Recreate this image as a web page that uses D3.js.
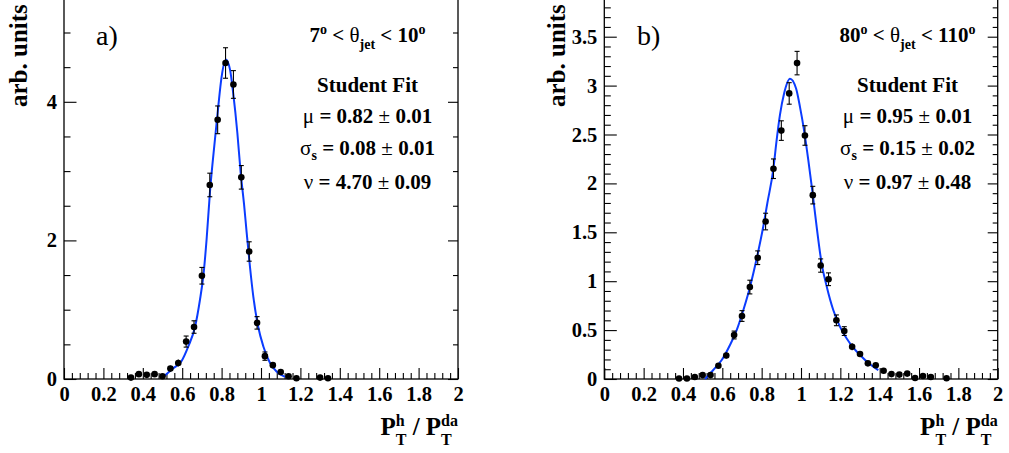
<!DOCTYPE html>
<html><head><meta charset="utf-8">
<script src="https://cdn.jsdelivr.net/npm/d3@7"></script>
<style>
html,body{margin:0;padding:0;background:#fff;}
svg{display:block;font-family:"Liberation Serif","Times New Roman",serif;}
text{white-space:pre;}
</style></head>
<body>
<svg id="c" width="1009" height="453"></svg>
<script>
// ---------- data ----------
const xTickValues = [0,0.2,0.4,0.6,0.8,1,1.2,1.4,1.6,1.8,2];
const xTickLabels = ["0","0.2","0.4","0.6","0.8","1","1.2","1.4","1.6","1.8","2"];

// panel a)
const aX   = [0.34,0.38,0.42,0.46,0.50,0.54,0.58,0.62,0.66,0.70,0.74,0.78,0.82,0.86,0.90,0.94,0.98,1.02,1.06,1.10,1.14,1.18,1.30,1.34];
const aY   = [0.02,0.07,0.06,0.07,0.04,0.15,0.23,0.54,0.75,1.49,2.80,3.74,4.56,4.25,2.91,1.84,0.81,0.33,0.20,0.10,0.04,0.01,0.02,0.01];
const aErr = [0.015,0.03,0.025,0.03,0.02,0.04,0.05,0.08,0.09,0.12,0.17,0.20,0.22,0.20,0.17,0.14,0.09,0.06,0.045,0.03,0.02,0.01,0.015,0.01];
const aFitX = [0.504,0.555,0.597,0.631,0.665,0.690,0.707,0.724,0.741,0.766,0.783,0.800,0.822,0.843,0.859,0.880,0.897,0.914,0.927,0.944,0.961,0.986,1.012,1.046,1.080,1.122];
const aFitY = [0.03,0.154,0.26,0.47,0.75,1.14,1.48,2.02,2.70,3.45,3.93,4.36,4.61,4.46,4.12,3.55,2.97,2.52,2.12,1.62,1.19,0.75,0.47,0.23,0.105,0.03];
const aYTicksMajor = [0,2,4];
const aYTickLabels = ["0","2","4"];

// panel b)
const bX   = [0.38,0.42,0.46,0.50,0.54,0.58,0.62,0.66,0.70,0.74,0.78,0.82,0.86,0.90,0.94,0.98,1.02,1.06,1.10,1.14,1.18,1.22,1.26,1.30,1.34,1.38,1.42,1.46,1.50,1.54,1.58,1.62,1.66,1.74];
const bY   = [0.005,0.005,0.02,0.04,0.04,0.136,0.24,0.45,0.644,0.94,1.24,1.61,2.15,2.54,2.92,3.23,2.49,1.88,1.16,1.02,0.60,0.49,0.33,0.255,0.16,0.14,0.085,0.05,0.045,0.055,0.01,0.03,0.02,0.007];
const bErr = [0.005,0.005,0.01,0.015,0.015,0.025,0.03,0.04,0.055,0.07,0.07,0.085,0.10,0.10,0.11,0.12,0.10,0.09,0.068,0.065,0.055,0.045,0.035,0.03,0.025,0.025,0.02,0.015,0.015,0.015,0.01,0.01,0.01,0.007];
const bFitX = [0.512,0.554,0.597,0.639,0.673,0.707,0.741,0.775,0.808,0.829,0.859,0.876,0.893,0.914,0.944,0.975,0.995,1.015,1.037,1.059,1.080,1.105,1.131,1.164,1.198,1.249,1.300,1.351,1.393];
const bFitY = [0.0,0.092,0.194,0.348,0.50,0.706,0.944,1.234,1.557,1.80,2.14,2.44,2.70,2.92,3.07,2.97,2.78,2.55,2.24,1.90,1.55,1.18,0.944,0.706,0.535,0.365,0.245,0.15,0.09];
const bYTicksMajor = [0,0.5,1,1.5,2,2.5,3,3.5];
const bYTickLabels = ["0","0.5","1","1.5","2","2.5","3","3.5"];

// texts
const aLabel = "a)", bLabel = "b)";
const aRange = ["7","80"], aRange2 = ["10","110"];
const fitTitle = "Student Fit";
const aMu = ["0.82","0.01"], aSig = ["0.08","0.01"], aNu = ["4.70","0.09"];
const bMu = ["0.95","0.01"], bSig = ["0.15","0.02"], bNu = ["0.97","0.48"];
const yTitle = "arb. units";

// ---------- drawing ----------
const svg = d3.select("#c");
const BLUE = "#0b3cff";

function panel(o){
  const g = svg.append("g");
  const x = d3.scaleLinear().domain([0,2]).range([o.x0,o.x1]);
  const y = d3.scaleLinear().domain([0,o.ymax]).range([379, 379 - o.ymax*o.ppu]);

  // frame
  g.append("rect").attr("x",o.x0).attr("y",y(o.ymax)).attr("width",o.x1-o.x0).attr("height",379-y(o.ymax))
   .attr("fill","none").attr("stroke","#000").attr("stroke-width",1.3);

  const xMinor = d3.range(0,2.0001,0.04).filter(v=>Math.abs(v/0.2-Math.round(v/0.2))>1e-6);
  const yMinor = d3.range(0,o.ymax+1e-6,o.yminorStep).filter(v=>!o.ymajor.some(m=>Math.abs(m-v)<1e-6));

  // bottom axis
  const xb = g.append("g").attr("transform",`translate(0,379)`)
    .call(d3.axisBottom(x).tickValues(xTickValues).tickSize(-11).tickPadding(7)
      .tickFormat((d,i)=>xTickLabels[i]));
  const xbm = g.append("g").attr("transform",`translate(0,379)`)
    .call(d3.axisBottom(x).tickValues(xMinor).tickSize(-6).tickFormat(""));
  // left axis
  const yl = g.append("g").attr("transform",`translate(${o.x0},0)`)
    .call(d3.axisLeft(y).tickValues(o.ymajor).tickSize(-12.5).tickPadding(7)
      .tickFormat((d,i)=>o.ylabels[i]));
  const ylm = g.append("g").attr("transform",`translate(${o.x0},0)`)
    .call(d3.axisLeft(y).tickValues(yMinor).tickSize(-6.5).tickFormat(""));
  // right side ticks
  const yr = g.append("g").attr("transform",`translate(${o.x1},0)`)
    .call(d3.axisRight(y).tickValues(o.ymajor).tickSize(-10).tickFormat(""));
  const yrm = g.append("g").attr("transform",`translate(${o.x1},0)`)
    .call(d3.axisRight(y).tickValues(yMinor).tickSize(-5).tickFormat(""));
  [xb,xbm,yl,ylm,yr,yrm].forEach(a=>{
    a.select(".domain").remove();
    a.selectAll("line").attr("stroke","#000").attr("stroke-width",1.1);
    a.selectAll("text").attr("font-family","Liberation Serif").attr("font-weight","bold")
     .attr("font-size",20.5).attr("fill","#000");
  });

  // fit curve
  const fit = o.fitX.map((v,i)=>[v,o.fitY[i]]);
  g.append("path").datum(fit).attr("fill","none").attr("stroke",BLUE).attr("stroke-width",2)
   .attr("d",d3.line().x(d=>x(d[0])).y(d=>y(d[1])).curve(d3.curveMonotoneX));

  // error bars and markers
  const pts = o.px.map((v,i)=>({x:v,y:o.py[i],e:o.pe[i]}));
  const eb = g.append("g").attr("stroke","#000").attr("stroke-width",1.1);
  pts.forEach(p=>{
    const cx = x(p.x), yt = y(p.y+p.e), yb = y(Math.max(0,p.y-p.e));
    eb.append("line").attr("x1",cx).attr("x2",cx).attr("y1",yt).attr("y2",yb);
    if (p.e*o.ppu > 3.5){
      eb.append("line").attr("x1",cx-2.5).attr("x2",cx+2.5).attr("y1",yt).attr("y2",yt);
      eb.append("line").attr("x1",cx-2.5).attr("x2",cx+2.5).attr("y1",yb).attr("y2",yb);
    }
  });
  g.append("g").selectAll("circle").data(pts).join("circle")
   .attr("cx",d=>x(d.x)).attr("cy",d=>y(d.y)).attr("r",3.3).attr("fill","#000");

  // y title
  g.append("text").attr("transform",`translate(${o.ytX},107) rotate(-90)`)
   .attr("font-weight","bold").attr("font-size",25).attr("text-anchor","start").text(yTitle);

  // panel label
  g.append("text").attr("x",o.labX).attr("y",45).attr("font-size",28).text(o.label);

  // info texts
  const cxT = o.textCx;
  const t1 = g.append("text").attr("x",cxT).attr("y",41.5).attr("text-anchor","middle")
    .attr("font-weight","bold").attr("font-size",21);
  t1.append("tspan").text(o.r1);
  t1.append("tspan").attr("font-size",14).attr("dy",-8).text("o");
  t1.append("tspan").attr("dy",8).text(" < ");
  t1.append("tspan").attr("font-weight","normal").text("θ");
  t1.append("tspan").attr("font-size",14).attr("dy",7).text("jet");
  t1.append("tspan").attr("dy",-7).text(" < "+o.r2);
  t1.append("tspan").attr("font-size",14).attr("dy",-8).text("o");

  g.append("text").attr("x",cxT).attr("y",92).attr("text-anchor","middle")
    .attr("font-weight","bold").attr("font-size",21).text(fitTitle);

  function paramLine(yy, sym, sub, vals){
    const t = g.append("text").attr("x",cxT).attr("y",yy).attr("text-anchor","middle")
      .attr("font-weight","bold").attr("font-size",21);
    t.append("tspan").attr("font-weight","normal").text(sym);
    if (sub){
      t.append("tspan").attr("font-size",14).attr("dy",5).text(sub);
      t.append("tspan").attr("dy",-5).text(" = "+vals[0]+" ");
    } else {
      t.append("tspan").text(" = "+vals[0]+" ");
    }
    t.append("tspan").attr("font-weight","normal").text("±");
    t.append("tspan").text(" "+vals[1]);
  }
  paramLine(123, "μ", null, o.mu);
  paramLine(155, "σ", "s", o.sig);
  paramLine(189, "ν", null, o.nu);

  // x title, right aligned to frame
  const xt = g.append("g");
  let cx = 0;
  function piece(str, size, dy){
    const t = xt.append("text").attr("x",cx).attr("y",435+dy).attr("font-weight","bold")
      .attr("font-size",size).text(str);
    return t.node().getComputedTextLength();
  }
  function stack(sup, sub){
    const w1 = piece(sup, 16, -9);
    const w2 = piece(sub, 16, 10);
    cx += Math.max(w1,w2);
  }
  cx += piece("P",25,0);
  stack("h","T");
  cx += piece("\u00a0/\u00a0P",25,0);
  stack("da","T");
  xt.attr("transform",`translate(${o.x1 - cx},0)`);
}

panel({x0:64, x1:458, ymax:5.6, ppu:69.3, ymajor:aYTicksMajor, ylabels:aYTickLabels, yminorStep:0.5,
  fitX:aFitX, fitY:aFitY, px:aX, py:aY, pe:aErr, ytX:27, labX:96, label:aLabel, textCx:367.5,
  r1:aRange[0], r2:aRange2[0], mu:aMu, sig:aSig, nu:aNu});
panel({x0:604.3, x1:997.7, ymax:4.0, ppu:97.8, ymajor:bYTicksMajor, ylabels:bYTickLabels, yminorStep:0.1,
  fitX:bFitX, fitY:bFitY, px:bX, py:bY, pe:bErr, ytX:565, labX:637, label:bLabel, textCx:907.5,
  r1:aRange[1], r2:aRange2[1], mu:bMu, sig:bSig, nu:bNu});
</script>
</body></html>
